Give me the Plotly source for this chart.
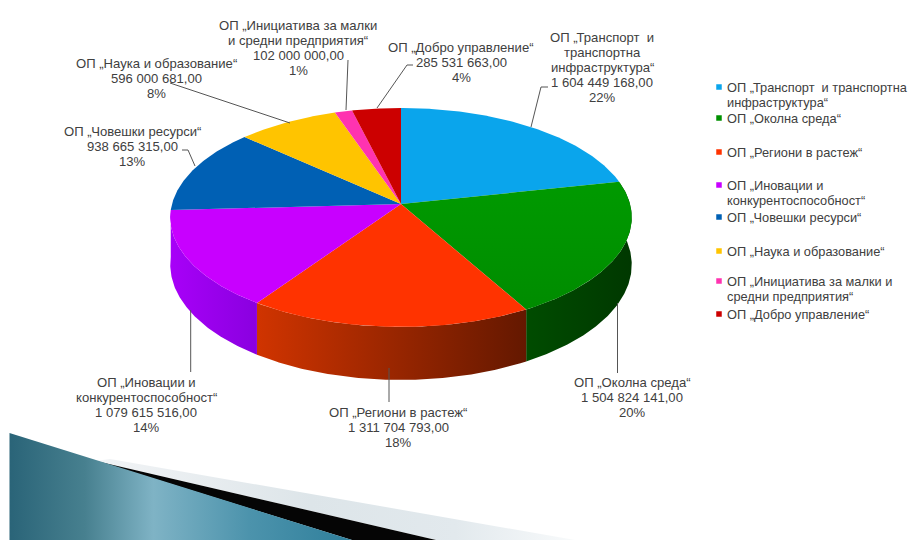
import math
import plotly.graph_objects as go

# Operational programme budgets
programmes = [
    "ОП „Транспорт  и<br>транспортна<br>инфраструктура“",
    "ОП „Околна среда“",
    "ОП „Региони в растеж“",
    "ОП „Иновации и<br>конкурентоспособност“",
    "ОП „Човешки ресурси“",
    "ОП „Наука и образование“",
    "ОП „Инициатива за малки<br>и средни предприятия“",
    "ОП „Добро управление“",
]
legend_names = [
    "ОП „Транспорт  и транспортна<br>инфраструктура“",
    "ОП „Околна среда“",
    "ОП „Региони в растеж“",
    "ОП „Иновации и<br>конкурентоспособност“",
    "ОП „Човешки ресурси“",
    "ОП „Наука и образование“",
    "ОП „Инициатива за малки и<br>средни предприятия“",
    "ОП „Добро управление“",
]
budgets = [1604449168, 1504824141, 1311704793, 1079615516,
           938665315, 596000681, 102000000, 285531663]
shares = ["22%", "20%", "18%", "14%", "13%", "8%", "1%", "4%"]

top_colors = ["#0AA5EC", "#009000", "#FF3300", "#C800FF",
              "#0060B4", "#FFC400", "#FF33B0", "#CC0000"]
side_colors = [("#0080C0", "#0080C0"), ("#004C00", "#003800"), ("#D03400", "#641800"),
               ("#A800F8", "#8A00E0"), ("#004880", "#004880"), ("#C09000", "#C09000"),
               ("#C02080", "#C02080"), ("#900000", "#900000")]

# Tilted disc projection
CX, CY = 401.0, 204.0
RX, RY = 229.0, 107.8
TILT = 0.123
DEPTH = 46.5


def project(theta_deg, drop=0.0):
    t = math.radians(theta_deg)
    u, v = math.sin(t), math.cos(t)
    w = 1 + TILT * v
    return CX + RX * u / w, CY - RY * v / w + drop / w


def arc(a0, a1, drop=0.0):
    n = max(2, int(abs(a1 - a0) * 2))
    pts = [project(a0 + (a1 - a0) * i / n, drop=drop) for i in range(n + 1)]
    return [p[0] for p in pts], [p[1] for p in pts]


total = sum(budgets)
edges = [0.0]
for b in budgets:
    edges.append(edges[-1] + 360.0 * b / total)

fig = go.Figure()


def polygon(xs, ys, color=None, gradient=None):
    kw = dict(x=xs, y=ys, mode="lines", fill="toself", line=dict(width=0),
              hoverinfo="skip", showlegend=False)
    if gradient:
        kw["fillgradient"] = dict(type=gradient[0], colorscale=gradient[1])
        kw["fillcolor"] = gradient[1][0][1]
    else:
        kw["fillcolor"] = color
    fig.add_trace(go.Scatter(**kw))


# Corner decoration: pale wedge, black band, blue wedge
polygon([110, 575, 436, 96, 110], [459, 540, 540, 461, 459],
        gradient=("horizontal", [[0, "#F2F4F6"], [0.45, "#DDE5E9"], [0.75, "#E2E9ED"], [1, "#F8FAFB"]]))
polygon([96, 436, 352, 96], [461, 540, 540, 461], color="#050505")
polygon([9.5, 9.5, 352, 9.5], [433, 540, 540, 433],
        gradient=("horizontal", [[0, "#2A6478"], [0.22, "#47808F"], [0.42, "#7FB3C5"],
                                 [0.7, "#4C93AC"], [1, "#2F7F9B"]]))

# Outer walls, only the front half faces the viewer
WALL_FROM, WALL_TO = 78.0, edges[4]
for i in range(len(budgets)):
    a0, a1 = max(edges[i], WALL_FROM), min(edges[i + 1], WALL_TO)
    if a1 <= a0:
        continue
    tx, ty = arc(a0, a1)
    bx, by = arc(a1, a0, drop=DEPTH)
    c0, c1 = side_colors[i]
    polygon(tx + bx, ty + by, gradient=("horizontal", [[0, c0], [1, c1]]))

# Top faces
for i in range(len(budgets)):
    ax, ay = arc(edges[i], edges[i + 1])
    if i == 1:
        polygon([CX] + ax + [CX], [CY] + ay + [CY],
                gradient=("vertical", [[0, "#008C00"], [1, "#009A00"]]))
    else:
        polygon([CX] + ax + [CX], [CY] + ay + [CY], color=top_colors[i])

# Leader lines from each label to its slice
leaders = [
    ([531, 541, 548], [127, 87, 87]),
    ([617.5, 617.5], [303, 373]),
    ([389, 389], [368, 402]),
    ([190.7, 190.7], [310, 372]),
    ([195, 188, 182], [166, 150, 150]),
    ([290, 170], [123, 83]),
    ([346, 348], [110, 60]),
    ([377, 407, 413], [108, 65, 65]),
]
for lx, ly in leaders:
    fig.add_trace(go.Scatter(x=lx, y=ly, mode="lines", line=dict(color="#555555", width=1),
                             hoverinfo="skip", showlegend=False))

TEXT = "#404040"
LINE_H = 15.2
annotations = []


def text_block(lines, x, first_y, anchor, size):
    # One annotation per row keeps the leading tighter than the default
    for n, row in enumerate(lines):
        annotations.append(dict(x=x, y=first_y + n * LINE_H, xref="x", yref="y",
                                showarrow=False, text=row, xanchor=anchor, yanchor="middle",
                                font=dict(family="Liberation Sans", size=size, color=TEXT)))


# Data labels: centre x and first-row y of each block
label_spots = [(602, 37), (632, 382), (398, 412), (146, 382),
               (132, 131), (156, 63), (298, 25), (461, 47)]
for name, b, share, (lx, ly) in zip(programmes, budgets, shares, label_spots):
    amount = f"{b:,}".replace(",", " ") + ",00"
    text_block(name.split("<br>") + [amount, share], lx, ly, "center", 13.1)

# Key on the right
legend_first_y = [87, 118, 152, 185, 217, 251, 281, 314]
fig.add_trace(go.Scatter(x=[719] * len(legend_first_y), y=legend_first_y, mode="markers",
                         marker=dict(symbol="square", size=5.5, color=top_colors),
                         hoverinfo="skip", showlegend=False))
for name, ly in zip(legend_names, legend_first_y):
    text_block(name.split("<br>"), 725, ly, "left", 12.8)

fig.update_layout(
    width=909, height=540, autosize=False,
    margin=dict(l=0, r=0, t=0, b=0),
    paper_bgcolor="white", plot_bgcolor="white",
    xaxis=dict(range=[0, 909], visible=False, fixedrange=True),
    yaxis=dict(range=[540, 0], visible=False, fixedrange=True),
    annotations=annotations,
    showlegend=False,
)
fig.write_html("out.html", config={"displayModeBar": False})
